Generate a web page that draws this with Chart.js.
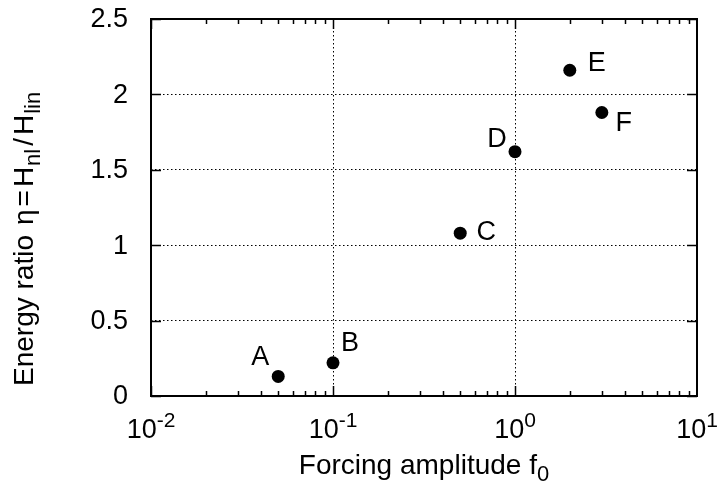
<!DOCTYPE html>
<html>
<head>
  <script src="https://cdnjs.cloudflare.com/ajax/libs/Chart.js/4.4.1/chart.umd.min.js"></script>
  <style>
    body { margin: 0; background: #fff; }
  </style>
</head>
<body>

<canvas id="ratioChart" width="720" height="484"></canvas>

<script>
// data
var pointNames = ["A", "B", "C", "D", "E", "F"];
var forcing = [0.05, 0.1, 0.5, 1, 2, 3];
var energyRatio = [0.13, 0.22, 1.08, 1.62, 2.16, 1.88];
var xTickValues = [0.01, 0.1, 1, 10];
var xTickExponents = ["-2", "-1", "0", "1"];
var yTickValues = [0, 0.5, 1, 1.5, 2, 2.5];
var yTickLabels = ["0", "0.5", "1", "1.5", "2", "2.5"];

var FONT = "Liberation Sans, Arial, sans-serif";
var fontSize = 27;
var smallSize = 21;

// where each letter sits relative to its point
var nameOffsets = {
  A: [-18, -19], B: [17, -19], C: [26, -1],
  D: [-18, -12], E: [27, -7], F: [22, 11]
};

var points = forcing.map(function(f, i) {
  return { x: f, y: energyRatio[i] };
});

// a string made of pieces: [text, shift, gapBefore], shift 1 = superscript, -1 = subscript
function richWidth(ctx, pieces, big, small) {
  var w = 0;
  pieces.forEach(function(p) {
    ctx.font = (p[1] ? small : big) + "px " + FONT;
    w += ctx.measureText(p[0]).width + (p[2] || 0);
  });
  return w;
}
function drawRich(ctx, pieces, x, y, big, small) {
  var cx = x;
  pieces.forEach(function(p) {
    ctx.font = (p[1] ? small : big) + "px " + FONT;
    cx += p[2] || 0;
    var dy = 0;
    if (p[1] === 1) dy = -11;
    if (p[1] === -1) dy = 7;
    ctx.fillText(p[0], cx, y + dy);
    cx += ctx.measureText(p[0]).width;
  });
}

var framePlugin = {
  id: "frame",
  afterDraw: function(chart) {
    var ctx = chart.ctx;
    var a = chart.chartArea;
    var xs = chart.scales.x, ys = chart.scales.y;
    ctx.save();
    ctx.strokeStyle = "#000";
    ctx.fillStyle = "#000";

    // ticks, inward, on all four sides
    ctx.lineWidth = 1.5;
    ctx.beginPath();
    for (var d = -2; d < 1; d++) {
      for (var m = 1; m < 10; m++) {
        var v = m * Math.pow(10, d);
        var px = Math.round(xs.getPixelForValue(v)) + 0.5;
        var len = m === 1 ? 10 : 5;
        ctx.moveTo(px, a.bottom); ctx.lineTo(px, a.bottom - len);
        ctx.moveTo(px, a.top); ctx.lineTo(px, a.top + len);
      }
    }
    yTickValues.forEach(function(v) {
      var py = Math.round(ys.getPixelForValue(v)) + 0.5;
      ctx.moveTo(a.left, py); ctx.lineTo(a.left + 10, py);
      ctx.moveTo(a.right, py); ctx.lineTo(a.right - 10, py);
    });
    ctx.stroke();

    // frame
    ctx.lineWidth = 2;
    ctx.strokeRect(a.left, a.top, a.right - a.left, a.bottom - a.top);

    // y tick labels
    ctx.font = fontSize + "px " + FONT;
    ctx.textAlign = "right";
    ctx.textBaseline = "middle";
    yTickValues.forEach(function(v, i) {
      ctx.fillText(yTickLabels[i], a.left - 23, ys.getPixelForValue(v) + 1);
    });

    // x tick labels with exponents
    ctx.textAlign = "left";
    ctx.textBaseline = "alphabetic";
    xTickValues.forEach(function(v, i) {
      var pieces = [["10", 0], [xTickExponents[i], 1]];
      var w = richWidth(ctx, pieces, fontSize, smallSize);
      drawRich(ctx, pieces, xs.getPixelForValue(v) - w / 2, a.bottom + 42, fontSize, smallSize);
    });

    // x title
    var xt = [["Forcing amplitude f", 0], ["0", -1]];
    var xw = richWidth(ctx, xt, 28, 22);
    drawRich(ctx, xt, (a.left + a.right) / 2 - xw / 2, a.bottom + 78, 28, 22);

    // y title, rotated; starts near the bottom of the plot
    var yt = [["Energy ratio", 0], ["\u03b7", 0, 10], ["=", 0, 3], ["H", 0, 3], ["nl", -1, 1],
              ["/", 0, 3], ["H", 0, 3], ["lin", -1, 1]];
    ctx.save();
    ctx.translate(33, a.bottom - 10);
    ctx.rotate(-Math.PI / 2);
    drawRich(ctx, yt, 0, 0, 28, 22);
    ctx.restore();

    // point names
    ctx.font = fontSize + "px " + FONT;
    ctx.textAlign = "center";
    ctx.textBaseline = "middle";
    pointNames.forEach(function(name, i) {
      var off = nameOffsets[name];
      var px = xs.getPixelForValue(forcing[i]);
      var py = ys.getPixelForValue(energyRatio[i]);
      ctx.fillText(name, px + off[0], py + off[1]);
    });
    ctx.restore();
  }
};

var ctx = document.getElementById("ratioChart").getContext("2d");
var ratioChart = new Chart(ctx, {
  type: "scatter",
  data: {
    datasets: [{
      data: points,
      backgroundColor: "#000",
      borderWidth: 0,
      pointRadius: 6.5,
      pointHoverRadius: 6.5
    }]
  },
  options: {
    responsive: false,
    animation: false,
    devicePixelRatio: 1,
    layout: { padding: { left: 151, top: 19, right: 23, bottom: 88 } },
    plugins: {
      legend: { display: false },
      tooltip: { enabled: false }
    },
    scales: {
      x: {
        type: "logarithmic",
        min: 0.01,
        max: 10,
        afterBuildTicks: function(scale) {
          scale.ticks = xTickValues.map(function(v) { return { value: v }; });
        },
        ticks: { display: false },
        grid: { color: "#000", lineWidth: 1, drawTicks: false, tickLength: 0 },
        border: { display: false, dash: [1.5, 2.5] }
      },
      y: {
        min: 0,
        max: 2.5,
        afterBuildTicks: function(scale) {
          scale.ticks = yTickValues.map(function(v) { return { value: v }; });
        },
        ticks: { display: false },
        grid: { color: "#000", lineWidth: 1, drawTicks: false, tickLength: 0 },
        border: { display: false, dash: [1.5, 2.5] }
      }
    }
  },
  plugins: [framePlugin]
});
</script>

</body>
</html>
